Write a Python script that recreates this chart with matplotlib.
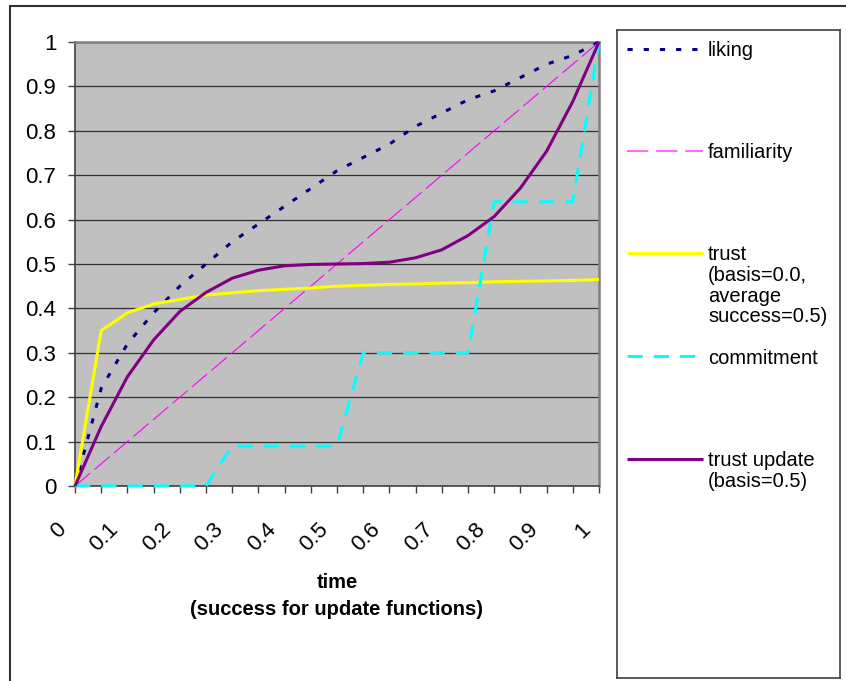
import matplotlib
matplotlib.use("Agg")
import matplotlib.pyplot as plt
import matplotlib.transforms as mtransforms
from matplotlib.patches import Rectangle

plt.rcParams["font.family"] = ["Liberation Sans", "DejaVu Sans"]

# category axis: success / time steps
time = [0, 0.05, 0.1, 0.15, 0.2, 0.25, 0.3, 0.35, 0.4, 0.45, 0.5,
        0.55, 0.6, 0.65, 0.7, 0.75, 0.8, 0.85, 0.9, 0.95, 1.0]
tick_labels = ["0", "", "0.1", "", "0.2", "", "0.3", "", "0.4", "", "0.5",
               "", "0.6", "", "0.7", "", "0.8", "", "0.9", "", "1"]

liking = [0, 0.22, 0.32, 0.39, 0.45, 0.50, 0.55, 0.59, 0.63, 0.67, 0.71,
          0.74, 0.77, 0.81, 0.84, 0.87, 0.89, 0.92, 0.95, 0.97, 1.0]
familiarity = [0, 0.05, 0.1, 0.15, 0.2, 0.25, 0.3, 0.35, 0.4, 0.45, 0.5,
               0.55, 0.6, 0.65, 0.7, 0.75, 0.8, 0.85, 0.9, 0.95, 1.0]
trust = [0, 0.35, 0.39, 0.41, 0.42, 0.43, 0.435, 0.44, 0.443, 0.446, 0.45,
         0.452, 0.454, 0.455, 0.457, 0.458, 0.46, 0.461, 0.462, 0.463, 0.465]
commitment = [0, 0, 0, 0, 0, 0, 0.09, 0.09, 0.09, 0.09, 0.09,
              0.30, 0.30, 0.30, 0.30, 0.30, 0.64, 0.64, 0.64, 0.64, 1.0]
trust_update = [0, 0.134, 0.246, 0.329, 0.393, 0.436, 0.468, 0.486, 0.496, 0.499, 0.5,
                0.501, 0.504, 0.514, 0.532, 0.564, 0.607, 0.671, 0.754, 0.866, 1.0]

series = [
    ("liking", liking, dict(color="#000080", lw=2.2, ls=(0, (1.7, 3.6)))),
    ("familiarity", familiarity, dict(color="#FF00FF", lw=0.8, ls=(0, (18, 5)))),
    ("trust\n(basis=0.0,\naverage\nsuccess=0.5)", trust, dict(color="#FFFF00", lw=2.2, ls="-")),
    ("commitment", commitment, dict(color="#00FFFF", lw=2.2, ls=(0, (5, 3.6)))),
    ("trust update\n(basis=0.5)", trust_update, dict(color="#800080", lw=2.2, ls="-")),
]

W, H = 846, 681
fig = plt.figure(figsize=(W / 100, H / 100), dpi=100)

# outer chart frame (right/bottom edges fall outside the picture)
fig.add_artist(Rectangle((10 / W, -0.1), 1.2, 1.1 - 6 / H, transform=fig.transFigure,
                         fill=False, edgecolor="#333333", lw=1.5))

ax = fig.add_axes([75 / W, 1 - 486 / H, 524 / W, 444 / H])
ax.set_facecolor("#C0C0C0")
for name, vals, st in series:
    ax.plot(time, vals, solid_capstyle="butt", dash_capstyle="butt",
            clip_on=False, zorder=3, **st)

ax.set_xlim(0, 1)
ax.set_ylim(0, 1)
ax.set_yticks([i / 10 for i in range(11)])
ax.set_yticklabels(["0"] + [f"{i / 10:g}" for i in range(1, 10)] + ["1"])
ax.set_xticks(time)
ax.set_xticklabels(tick_labels, rotation=45, ha="right", va="center",
                   rotation_mode="anchor")
ax.grid(axis="y", color="#303030", lw=0.9)
ax.grid(axis="x", visible=False)
ax.set_axisbelow(True)
ax.tick_params(axis="both", direction="out", length=5, width=1, color="#404040",
               labelsize=16)
ax.tick_params(axis="y", pad=8.5)
ax.tick_params(axis="x", pad=0)
offset = mtransforms.ScaledTranslation(-12 / 100, -33 / 100, fig.dpi_scale_trans)
for lab in ax.get_xticklabels():
    lab.set_transform(lab.get_transform() + offset)

for side in ("top", "right"):
    ax.spines[side].set_color("#808080")
    ax.spines[side].set_linewidth(1.8)
for side in ("left", "bottom"):
    ax.spines[side].set_color("#404040")
    ax.spines[side].set_linewidth(1.2)

ax.text(0.5, -0.248, "time\n(success for update functions)", transform=ax.transAxes,
        ha="center", va="center", fontsize=14.5, fontweight="bold", linespacing=1.5)

# legend box, drawn in pixel units
lax = fig.add_axes([617 / W, 1 - 678 / H, 223 / W, 648 / H])
lax.set_xlim(0, 223)
lax.set_ylim(648, 0)
lax.set_xticks([])
lax.set_yticks([])
for sp in lax.spines.values():
    sp.set_color("#404040")
    sp.set_linewidth(1.2)
entry_y = [19, 121, 223, 326, 429]
for (name, vals, st), y in zip(series, entry_y):
    lst = dict(st)
    if name == "familiarity":
        lst.update(color="#FF66FF", lw=1.4, ls=(0, (11, 4)))
    lax.plot([10, 86], [y, y], solid_capstyle="butt", dash_capstyle="butt", **lst)
    for k, line in enumerate(name.split("\n")):
        lax.text(91, y + k * 20.6, line, ha="left", va="center_baseline", fontsize=14.5)

fig.savefig("out.png", dpi=100)
